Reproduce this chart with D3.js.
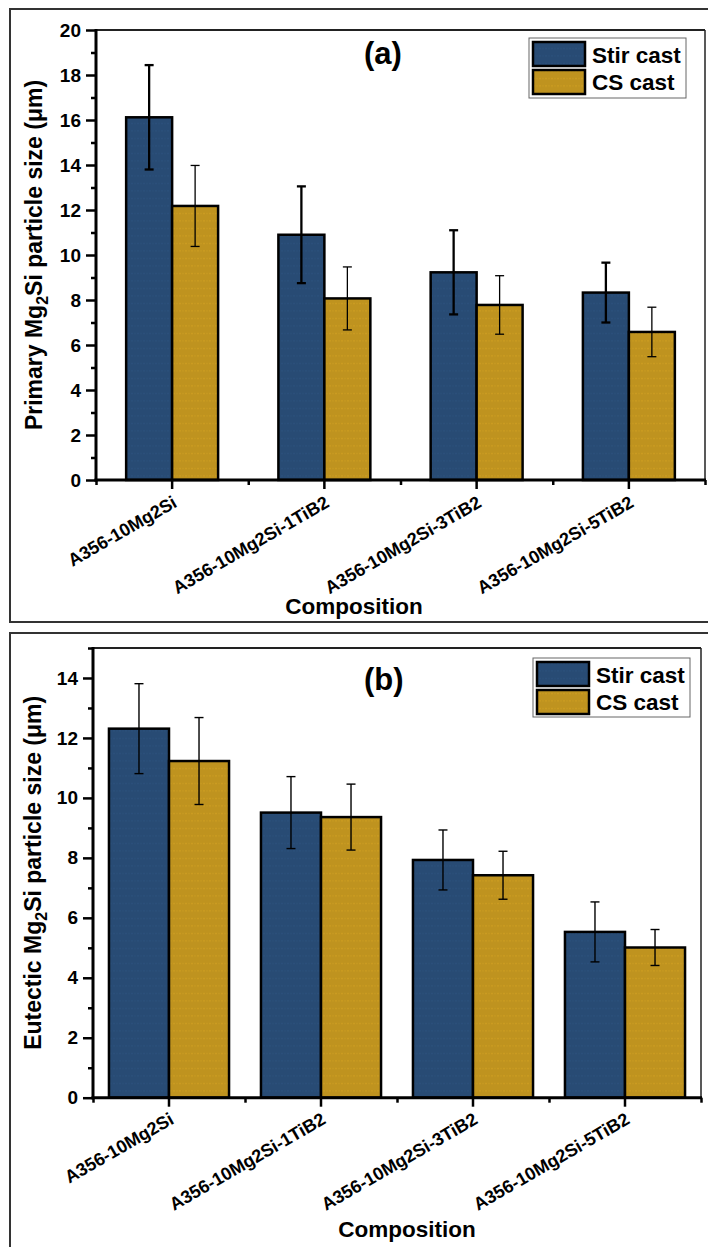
<!DOCTYPE html>
<html>
<head>
<meta charset="utf-8">
<script src="https://cdn.jsdelivr.net/npm/d3@7"></script>
<style>
  body { margin: 0; background: #fff; }
  svg { display: block; }
  text { font-family: Arial, "Liberation Sans", sans-serif; font-weight: bold; fill: #000; }
</style>
</head>
<body>
<svg id="chart" width="708" height="1247"></svg>
<script>
// data
const categories = ["A356-10Mg2Si", "A356-10Mg2Si-1TiB2", "A356-10Mg2Si-3TiB2", "A356-10Mg2Si-5TiB2"];
const seriesNames = ["Stir cast", "CS cast"];
const seriesColors = ["#284b74", "#bf931f"];

const primaryStir = [16.12, 10.9, 9.23, 8.33];
const primaryStirErr = [2.32, 2.15, 1.87, 1.33];
const primaryCs = [12.18, 8.07, 7.78, 6.58];
const primaryCsErr = [1.8, 1.4, 1.3, 1.1];

const eutecticStir = [12.31, 9.51, 7.93, 5.53];
const eutecticStirErr = [1.5, 1.2, 1.0, 1.0];
const eutecticCs = [11.23, 9.36, 7.42, 5.01];
const eutecticCsErr = [1.45, 1.1, 0.8, 0.6];

const svg = d3.select('#chart');

// faint dotted texture inside the bars
const defs = svg.append('defs');
seriesColors.forEach((c, i) => {
  const p = defs.append('pattern')
    .attr('id', 'tex' + i)
    .attr('patternUnits', 'userSpaceOnUse')
    .attr('width', 6).attr('height', 7.5);
  p.append('rect').attr('width', 6).attr('height', 7.5).attr('fill', c);
  p.append('line')
    .attr('x1', 0).attr('x2', 6).attr('y1', 3.5).attr('y2', 3.5)
    .attr('stroke', d3.color(c).brighter(0.6))
    .attr('stroke-width', 0.6)
    .attr('stroke-dasharray', '1,1.5')
    .attr('opacity', 0.6);
});

// outer frames of the two panels
svg.append('rect').attr('x', 10).attr('y', 9).attr('width', 720).attr('height', 613)
  .attr('fill', 'none').attr('stroke', '#333').attr('stroke-width', 2);
svg.append('rect').attr('x', 10).attr('y', 633).attr('width', 720).attr('height', 700)
  .attr('fill', 'none').attr('stroke', '#333').attr('stroke-width', 2);

function drawPanel(cfg) {
  const g = svg.append('g');
  const x0 = d3.scaleBand().domain(categories).range([cfg.left, cfg.right])
    .paddingInner(cfg.pad).paddingOuter(cfg.pad / 2);
  const x1 = d3.scaleBand().domain(seriesNames).range([0, x0.bandwidth()]);
  const y = d3.scaleLinear().domain([0, cfg.yMax]).range([cfg.bottom, cfg.top]);

  const rows = [];
  categories.forEach((c, i) => {
    rows.push({cat: c, s: 0, v: cfg.stir[i], e: cfg.stirErr[i]});
    rows.push({cat: c, s: 1, v: cfg.cs[i], e: cfg.csErr[i]});
  });

  // plot frame top/right
  g.append('line').attr('x1', cfg.left).attr('x2', cfg.right).attr('y1', cfg.top).attr('y2', cfg.top)
    .attr('stroke', '#222').attr('stroke-width', 2);
  g.append('line').attr('x1', cfg.right).attr('x2', cfg.right).attr('y1', cfg.top).attr('y2', cfg.bottom)
    .attr('stroke', '#222').attr('stroke-width', 1.5);

  // bars
  g.selectAll('rect.bar').data(rows).join('rect')
    .attr('class', 'bar')
    .attr('x', d => x0(d.cat) + x1(seriesNames[d.s]))
    .attr('y', d => y(d.v))
    .attr('width', x1.bandwidth())
    .attr('height', d => y(0) - y(d.v))
    .attr('fill', d => 'url(#tex' + d.s + ')')
    .attr('stroke', '#000').attr('stroke-width', 2.5);

  // error bars
  const eb = g.selectAll('g.err').data(rows).join('g').attr('class', 'err')
    .attr('stroke', '#000')
    .attr('stroke-width', d => cfg.errW[d.s]);
  const cx = d => x0(d.cat) + x1(seriesNames[d.s]) + x1.bandwidth() / 2;
  eb.append('line').attr('x1', cx).attr('x2', cx)
    .attr('y1', d => y(d.v + d.e)).attr('y2', d => y(d.v - d.e));
  eb.append('line').attr('x1', d => cx(d) - 4.5).attr('x2', d => cx(d) + 4.5)
    .attr('y1', d => y(d.v + d.e)).attr('y2', d => y(d.v + d.e));
  eb.append('line').attr('x1', d => cx(d) - 4.5).attr('x2', d => cx(d) + 4.5)
    .attr('y1', d => y(d.v - d.e)).attr('y2', d => y(d.v - d.e));

  // y axis: major + minor ticks
  const major = d3.range(0, cfg.yMax + 0.01, 2);
  const minor = d3.range(1, cfg.yMax + 0.01, 2);
  const ya = g.append('g').attr('transform', `translate(${cfg.left},0)`)
    .call(d3.axisLeft(y).tickValues(major).tickSize(10).tickPadding(5).tickFormat(d3.format('d')));
  ya.selectAll('text').style('font-size', '19px').style('font-family', 'Arial, "Liberation Sans", sans-serif');
  const ym = g.append('g').attr('transform', `translate(${cfg.left},0)`)
    .call(d3.axisLeft(y).tickValues(minor).tickSize(5).tickFormat(''));
  [ya, ym].forEach(a => {
    a.select('.domain').remove();
    a.selectAll('line').attr('stroke', '#000').attr('stroke-width', 2.5);
  });

  // x axis: ticks at centres, minor ticks at category boundaries
  const xb = d3.scaleLinear().domain([0, categories.length]).range([cfg.left, cfg.right]);
  const xa = g.append('g').attr('transform', `translate(0,${cfg.bottom})`)
    .call(d3.axisBottom(x0).tickSize(9).tickFormat(''));
  const xm = g.append('g').attr('transform', `translate(0,${cfg.bottom})`)
    .call(d3.axisBottom(xb).tickValues(d3.range(0, categories.length + 1)).tickSize(5).tickFormat(''));
  [xa, xm].forEach(a => {
    a.select('.domain').remove();
    a.selectAll('line').attr('stroke', '#000').attr('stroke-width', 2.5);
  });

  // axis lines
  g.append('line').attr('x1', cfg.left).attr('x2', cfg.left).attr('y1', cfg.top - 1).attr('y2', cfg.bottom + 1.5)
    .attr('stroke', '#000').attr('stroke-width', 3);
  g.append('line').attr('x1', cfg.left - 1.5).attr('x2', cfg.right + 1).attr('y1', cfg.bottom).attr('y2', cfg.bottom)
    .attr('stroke', '#000').attr('stroke-width', 3);

  // rotated category labels
  g.selectAll('text.cat').data(categories).join('text')
    .attr('class', 'cat')
    .attr('text-anchor', 'end')
    .attr('transform', d => `translate(${x0(d) + x0.bandwidth() / 2 + 6},${cfg.bottom + cfg.labDy}) rotate(-30)`)
    .style('font-size', '18px')
    .text(d => d);

  // axis titles
  g.append('text').attr('x', cfg.xTitleX).attr('y', cfg.xTitleY)
    .attr('text-anchor', 'middle').style('font-size', '22.5px').text('Composition');
  const yt = g.append('text')
    .attr('transform', `translate(${cfg.yTitleX},${(cfg.top + cfg.bottom) / 2}) rotate(-90)`)
    .attr('text-anchor', 'middle').style('font-size', '23px');
  yt.append('tspan').text(cfg.yWord + ' Mg');
  yt.append('tspan').attr('dy', 6).style('font-size', '16px').text('2');
  yt.append('tspan').attr('dy', -6).text('Si particle size (\u03bcm)');

  // panel letter
  g.append('text').attr('x', 364).attr('y', cfg.letterY).style('font-size', '31px').text(cfg.letter);

  // legend
  const L = cfg.legend;
  g.append('rect').attr('x', L.x).attr('y', L.y).attr('width', L.w).attr('height', L.h)
    .attr('fill', '#fff').attr('stroke', '#666').attr('stroke-width', 1);
  seriesNames.forEach((s, i) => {
    g.append('rect').attr('x', L.x + 4).attr('y', L.y + 4 + i * 28)
      .attr('width', 52).attr('height', 24)
      .attr('fill', 'url(#tex' + i + ')').attr('stroke', '#000').attr('stroke-width', 2.5);
    g.append('text').attr('x', L.x + 63).attr('y', L.y + 25 + i * 27)
      .style('font-size', '22.5px').text(s);
  });
}

drawPanel({
  left: 96, right: 705, top: 30, bottom: 480, yMax: 20, pad: 0.396,
  stir: primaryStir, stirErr: primaryStirErr, cs: primaryCs, csErr: primaryCsErr,
  errW: [2.3, 1.3], labDy: 26, xTitleX: 354, xTitleY: 614, yTitleX: 42,
  yWord: 'Primary', letter: '(a)', letterY: 64,
  legend: {x: 529, y: 38, w: 157, h: 60}
});

drawPanel({
  left: 93, right: 701, top: 648, bottom: 1097.7, yMax: 15, pad: 0.21,
  stir: eutecticStir, stirErr: eutecticStirErr, cs: eutecticCs, csErr: eutecticCsErr,
  errW: [1.4, 1.4], labDy: 25, xTitleX: 407, xTitleY: 1237, yTitleX: 41,
  yWord: 'Eutectic', letter: '(b)', letterY: 690,
  legend: {x: 533, y: 658, w: 157, h: 59}
});
</script>
</body>
</html>
